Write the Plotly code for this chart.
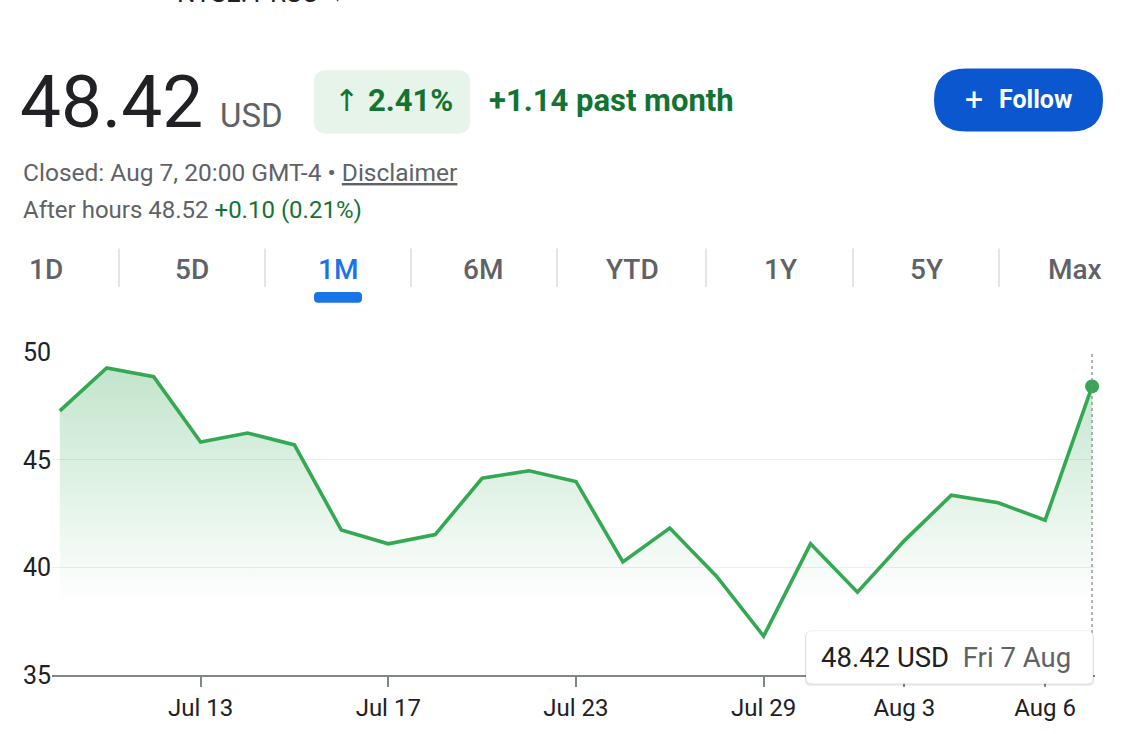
import plotly.graph_objects as go

# 1M view, trading days (2020)
dates = ["2020-07-08", "2020-07-09", "2020-07-10", "2020-07-13", "2020-07-14",
         "2020-07-15", "2020-07-16", "2020-07-17", "2020-07-20", "2020-07-21",
         "2020-07-22", "2020-07-23", "2020-07-24", "2020-07-27", "2020-07-28",
         "2020-07-29", "2020-07-30", "2020-07-31", "2020-08-03", "2020-08-04",
         "2020-08-05", "2020-08-06", "2020-08-07"]
close = [47.28, 49.28, 48.87, 45.83, 46.25, 45.70, 41.74, 41.10, 41.53, 44.15,
         44.50, 44.00, 40.26, 41.83, 39.58, 36.81, 41.10, 38.85, 41.25, 43.36,
         43.01, 42.20, 48.42]
tick_dates = ["2020-07-13", "2020-07-17", "2020-07-23", "2020-07-29",
              "2020-08-03", "2020-08-06"]
y_ticks = [35, 40, 45, 50]
periods = ["1D", "5D", "1M", "6M", "YTD", "1Y", "5Y", "Max"]
active_period = "1M"

GREEN = "#34a853"
DARK_GREEN = "#137333"
TEXT = "#202124"
GREY = "#5f6368"
FONT = "Roboto, Arial, sans-serif"

W, H = 1136, 734
L, R, T, B = 52, 1095, 352, 680


def px(x):
    return (x - L) / (R - L)


def py(y):
    return (B - y) / (B - T)


def rrect(x0, y0, x1, y1, r):
    # rounded rectangle path in paper units, built from pixel corners
    pts = [("M", x0 + r, y0), ("L", x1 - r, y0), ("Q", x1, y0, x1, y0 + r),
           ("L", x1, y1 - r), ("Q", x1, y1, x1 - r, y1), ("L", x0 + r, y1),
           ("Q", x0, y1, x0, y1 - r), ("L", x0, y0 + r), ("Q", x0, y0, x0 + r, y0)]
    out = []
    for p in pts:
        cmd, vals = p[0], p[1:]
        coords = []
        for i in range(0, len(vals), 2):
            coords.append(f"{px(vals[i]):.5f},{py(vals[i + 1]):.5f}")
        out.append(cmd + " " + " ".join(coords))
    return " ".join(out) + " Z"


fig = go.Figure()

fig.add_trace(go.Scatter(
    x=dates, y=close, mode="lines",
    line=dict(color=GREEN, width=3.6),
    fill="tozeroy",
    fillgradient=dict(type="vertical", start=38.5, stop=50,
                      colorscale=[[0, "rgba(52,168,83,0)"], [1, "rgba(52,168,83,0.32)"]]),
    hoverinfo="skip", showlegend=False,
))
fig.add_trace(go.Scatter(
    x=dates[-1:], y=close[-1:], mode="markers",
    marker=dict(color=GREEN, size=14), cliponaxis=False,
    hoverinfo="skip", showlegend=False,
))

shapes = []
# hover guide line
shapes.append(dict(type="line", xref="x", yref="paper", x0=dates[-1], x1=dates[-1],
                   y0=0, y1=1, line=dict(color="#80868b", width=1.2, dash="dot")))

# tooltip box with soft shadow
shapes.append(dict(type="path", xref="paper", yref="paper", layer="above",
                   path=rrect(805, 636, 1094, 691, 6),
                   fillcolor="rgba(60,64,67,0.12)", line=dict(width=0)))
shapes.append(dict(type="path", xref="paper", yref="paper", layer="above",
                   path=rrect(806, 635, 1093, 689, 6),
                   fillcolor="white", line=dict(color="rgba(60,64,67,0.08)", width=1)))

# change pill + follow button
shapes.append(dict(type="path", xref="paper", yref="paper", path=rrect(314, 66, 470, 130, 12),
                   fillcolor="#e6f4ea", line=dict(width=0)))
shapes.append(dict(type="path", xref="paper", yref="paper", path=rrect(934, 64, 1103, 128, 32),
                   fillcolor="#0b57d0", line=dict(width=0)))

# period tab separators + active underline
tab_centers = [46, 192, 338, 483, 632, 780, 926, 1075]
for sx in [119, 265, 411, 557, 706, 853, 999]:
    shapes.append(dict(type="line", xref="paper", yref="paper", x0=px(sx), x1=px(sx),
                       y0=py(247), y1=py(286), line=dict(color="#dadce0", width=1.5)))
ci = tab_centers[periods.index(active_period)]
shapes.append(dict(type="path", xref="paper", yref="paper",
                   path=rrect(ci - 24, 291, ci + 24, 302, 4),
                   fillcolor="#1a73e8", line=dict(width=0)))

ann = []


def text(x, y, s, size, color, anchor="left", weight=None, family=FONT):
    f = dict(family=family, size=size, color=color)
    if weight:
        f["weight"] = weight
    ann.append(dict(xref="paper", yref="paper", x=px(x), y=py(y), text=s, showarrow=False,
                    xanchor=anchor, yanchor="middle", font=f))


text(175, -13, "NYSE: PRSC  ▾", 26, TEXT)
text(18, 98, "48.42", 73, TEXT)
text(218, 112, "USD", 33, GREY)
text(346, 97, "↑", 30, DARK_GREEN, anchor="center", family="DejaVu Sans")
text(366, 97, "2.41%", 31, DARK_GREEN, weight="bold")
text(487, 97, "+1.14 past month", 31, DARK_GREEN, weight="bold")
text(974, 95, "+", 32, "white", anchor="center")
text(997, 96, "Follow", 25, "white", weight="bold")
text(21, 170, "Closed: Aug 7, 20:00 GMT-4 • <u>Disclaimer</u>", 24.5, GREY)
text(21, 208, f"After hours 48.52 <span style='color:{DARK_GREEN}'>+0.10 (0.21%)</span>", 24, GREY)
for p, cx in zip(periods, tab_centers):
    text(cx, 268, p, 28, "#1a73e8" if p == active_period else GREY, anchor="center", weight=500)
text(819, 662, f"48.42 USD  <span style='color:{GREY}'>Fri 7 Aug</span>", 27.5, TEXT)

fig.update_layout(
    width=W, height=H,
    margin=dict(l=L, r=W - R, t=T, b=H - B, pad=0),
    paper_bgcolor="white", plot_bgcolor="white",
    font=dict(family=FONT, color=TEXT),
    shapes=shapes, annotations=ann,
    xaxis=dict(
        type="date",
        range=["2020-07-07 20:00", "2020-08-07 01:30"],
        rangebreaks=[dict(bounds=["sat", "mon"])],
        tickvals=tick_dates, tickformat="%b %-d",
        tickfont=dict(size=24, color=TEXT),
        showgrid=False, zeroline=False,
        showline=True, linecolor="#80868b", linewidth=1.5,
        ticks="outside", ticklen=10, tickwidth=1.5, tickcolor="#80868b",
        fixedrange=True,
    ),
    yaxis=dict(
        range=[35, 50.02], tickvals=y_ticks,
        tickfont=dict(size=25, color=TEXT),
        showgrid=True, gridcolor="#ededed", gridwidth=1,
        zeroline=False, showline=False, ticks="",
        fixedrange=True,
    ),
)

# page margin off so the figure sits at the window's corner
fig.write_html("out.html", config={"displayModeBar": False},
               post_script="document.body.style.margin='0';")
